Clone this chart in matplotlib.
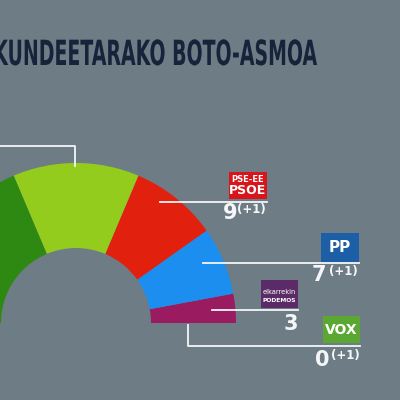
"""
Seat projection semicircle (Basque TV style graphic).
"""
import matplotlib
matplotlib.use("Agg")
import matplotlib.pyplot as plt
from matplotlib.patches import Wedge, Rectangle
from matplotlib.patheffects import AbstractPathEffect
from matplotlib.transforms import Affine2D

# seats, drawn from the right end of the arc going anticlockwise
parties = ["Podemos", "PP", "PSOE", "EH Bildu", "EAJ-PNV"]
seats = [3, 7, 9, 13, 19]
colors = ["#9a1b5f", "#1c8ef0", "#e2200e", "#94cc1e", "#2e8913"]

# labelled parties on the right side
label_parties = ["PSOE", "PP", "Podemos", "Vox"]
label_seats = ["9", "7", "3", "0"]
label_change = ["(+1)", "(+1)", "", "(+1)"]

title = "HAUTESKUNDEETARAKO BOTO-ASMOA"

BG = "#6e7c86"
WHITE = "#f4f6f7"


class Squeeze(AbstractPathEffect):
    """Narrow the glyphs horizontally around a fixed display x (condensed look)."""
    def __init__(self, x0, sx):
        super().__init__()
        self.x0, self.sx = x0, sx

    def draw_path(self, renderer, gc, tpath, affine, rgbFace=None):
        squeeze = Affine2D().translate(-self.x0, 0).scale(self.sx, 1).translate(self.x0, 0)
        renderer.draw_path(gc, tpath, affine + squeeze, rgbFace)


fig = plt.figure(figsize=(4, 4), dpi=100)
fig.patch.set_facecolor(BG)
ax = fig.add_axes([0, 0, 1, 1])
ax.set_facecolor(BG)
ax.set_xlim(0, 400)
ax.set_ylim(0, 400)
ax.axis("off")

# semicircle
cx, cy, r_out, r_in = 76, 77, 160, 75
total = sum(seats)
start = 0.0
for n, c in zip(seats, colors):
    span = 180.0 * n / total
    ax.add_patch(Wedge((cx, cy), r_out, start, start + span, width=r_out - r_in,
                       facecolor=c, edgecolor="none"))
    start += span

# title (left part falls off the picture like in the broadcast crop)
ax.text(318, 345, title, ha="right", va="center", fontsize=25, fontweight="bold",
        color="#17233a", path_effects=[Squeeze(318, 0.545)])

lw = 1.3
# leader for the big green block (label off screen)
ax.plot([0, 75, 75], [254, 254, 234], color=WHITE, lw=lw)

# PSOE
ax.plot([160, 267], [198, 198], color=WHITE, lw=lw)
ax.add_patch(Rectangle((229, 201), 38, 27, facecolor="#d8151b", edgecolor="none"))
ax.text(248, 220, "PSE-EE", ha="center", va="center", fontsize=6,
        fontweight="bold", color="white")
ax.text(248, 209, "PSOE", ha="center", va="center", fontsize=9,
        fontweight="bold", color="white")
ax.text(238, 187, label_seats[0], ha="right", va="center", fontsize=15,
        fontweight="bold", color=WHITE)
ax.text(266, 190, label_change[0], ha="right", va="center", fontsize=8.5,
        fontweight="bold", color=WHITE)

# PP
ax.plot([203, 359], [137, 137], color=WHITE, lw=lw)
ax.add_patch(Rectangle((321, 138), 38, 29, facecolor="#1d5fa6", edgecolor="none"))
ax.text(340, 152, "PP", ha="center", va="center", fontsize=11,
        fontweight="bold", color="white")
ax.text(326, 125, label_seats[1], ha="right", va="center", fontsize=15,
        fontweight="bold", color=WHITE)
ax.text(358, 128, label_change[1], ha="right", va="center", fontsize=8.5,
        fontweight="bold", color=WHITE)

# Elkarrekin Podemos
ax.plot([212, 298], [90, 90], color=WHITE, lw=lw)
ax.add_patch(Rectangle((261, 92), 37, 28, facecolor="#5b2b68", edgecolor="none"))
ax.text(279.5, 108, "elkarrekin", ha="center", va="center", fontsize=4.8,
        color="white")
ax.text(279.5, 99, "PODEMOS", ha="center", va="center", fontsize=4.3,
        fontweight="bold", color="white")
ax.text(298, 76, label_seats[2], ha="right", va="center", fontsize=15,
        fontweight="bold", color=WHITE)

# Vox
ax.plot([188, 188, 360], [75, 54, 54], color=WHITE, lw=lw)
ax.add_patch(Rectangle((323, 57), 37, 27, facecolor="#5aa831", edgecolor="none"))
ax.text(341.5, 70, "VOX", ha="center", va="center", fontsize=10,
        fontweight="bold", color="white")
ax.text(330, 40, label_seats[3], ha="right", va="center", fontsize=15,
        fontweight="bold", color=WHITE)
ax.text(360, 44, label_change[3], ha="right", va="center", fontsize=8.5,
        fontweight="bold", color=WHITE)

fig.savefig("out.png", dpi=100, facecolor=BG)
